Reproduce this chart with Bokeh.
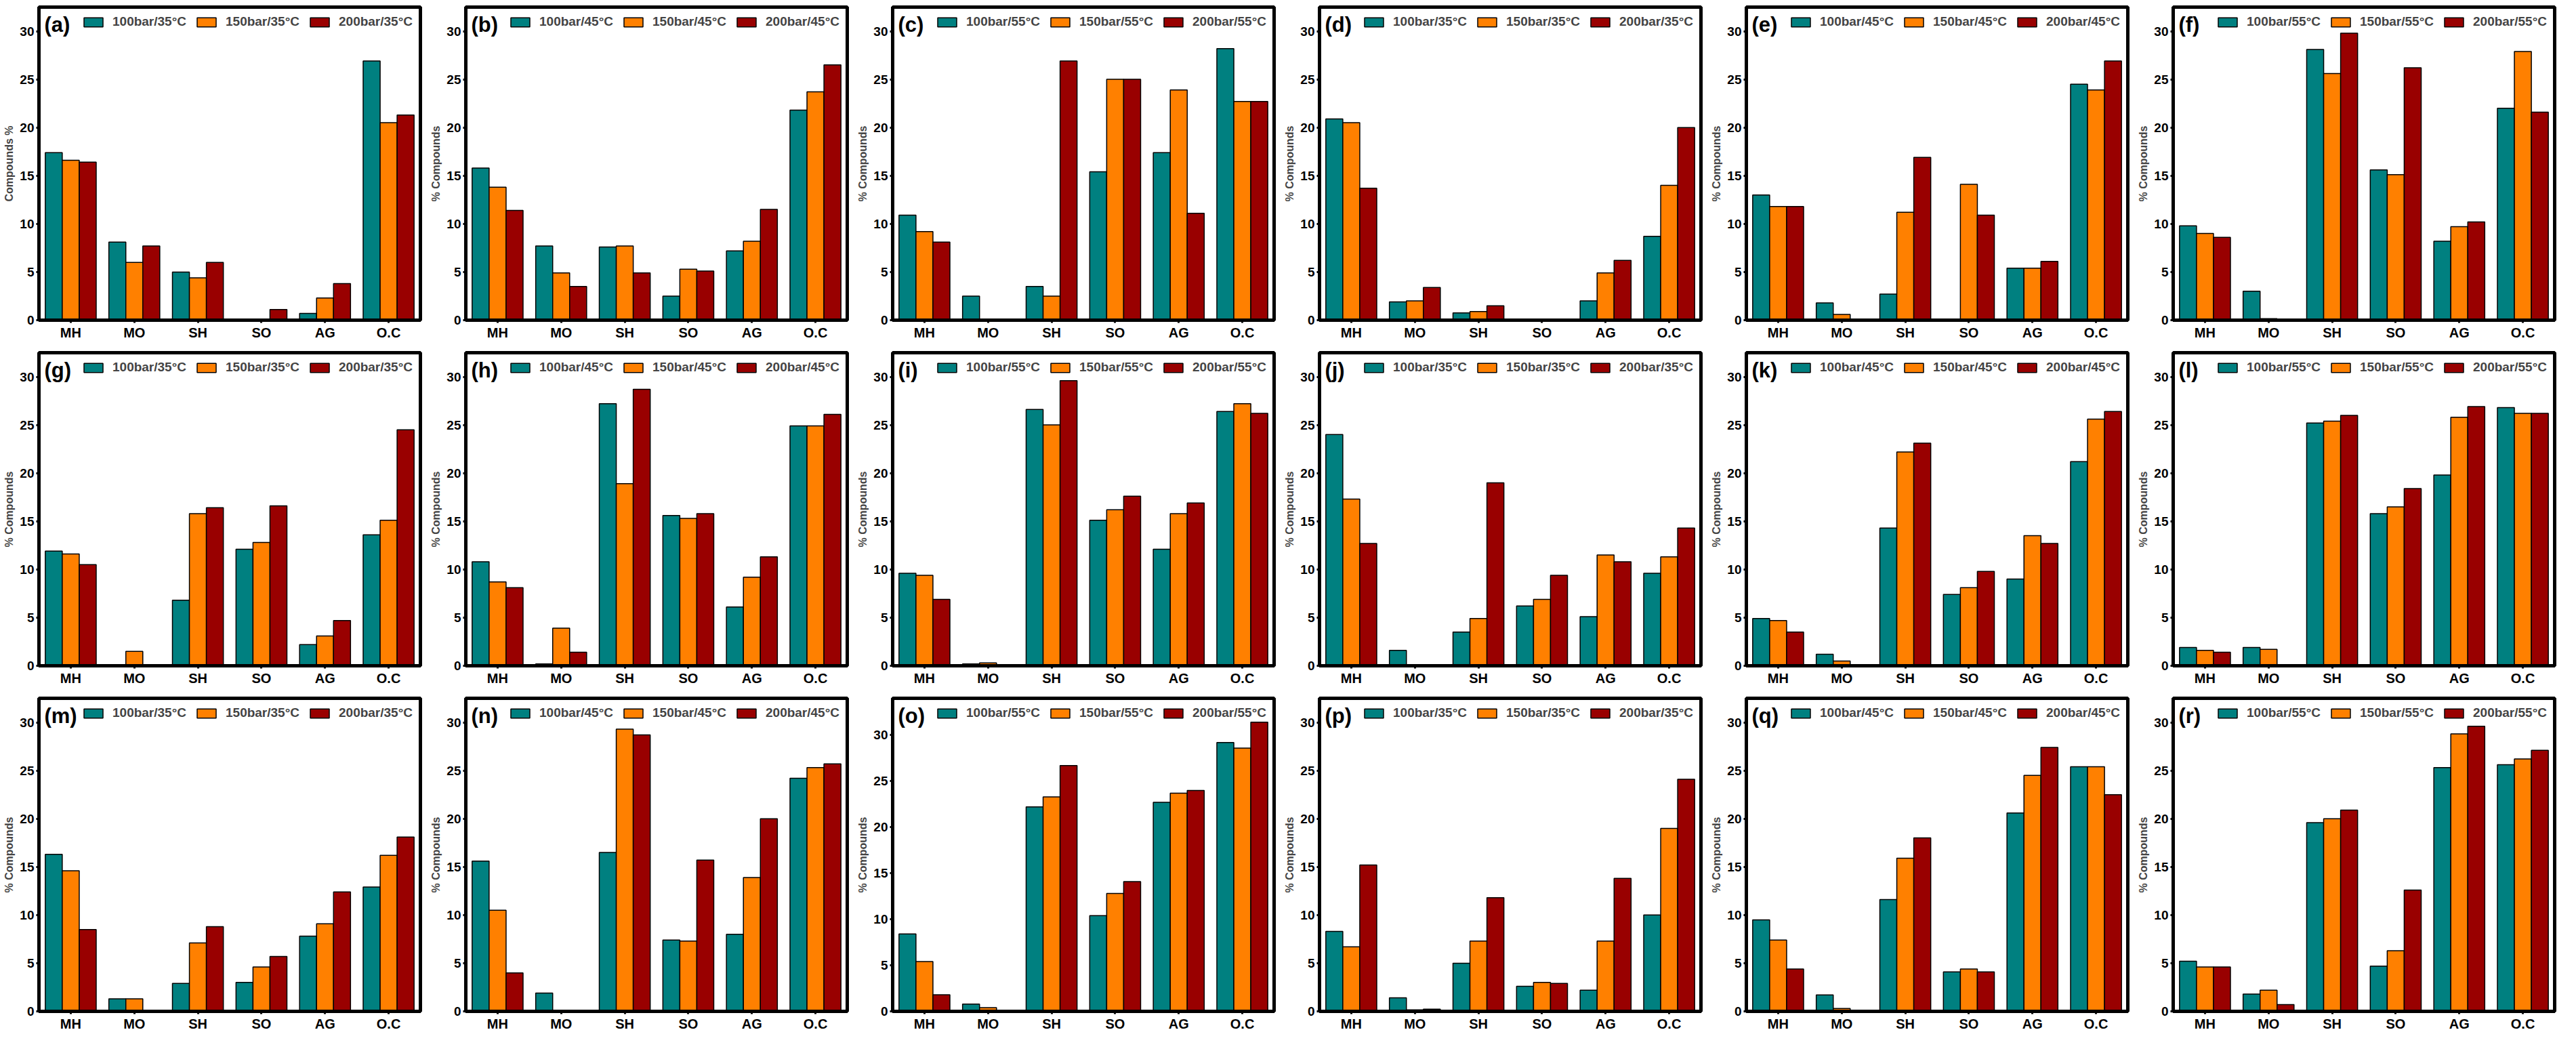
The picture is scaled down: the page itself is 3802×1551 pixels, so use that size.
"""
Percentage of compound classes (MH, MO, SH, SO, AG, O.C) extracted at
100/150/200 bar and 35/45/55 degC -- 18 grouped bar panels, (a) to (r).
"""

from bokeh.core.properties import value
from bokeh.embed import file_html
from bokeh.layouts import gridplot
from bokeh.models import ColumnDataSource, FactorRange, FixedTicker, Legend, LegendItem, Range1d
from bokeh.plotting import figure
from bokeh.resources import INLINE
from bokeh.transform import dodge

groups = ["MH", "MO", "SH", "SO", "AG", "O.C"]
pressures = ["100bar", "150bar", "200bar"]
temps = ["35", "45", "55"]
colors = ["#008080", "#FF8000", "#990000"]
y_ticks = [0, 5, 10, 15, 20, 25, 30]

# each panel: [100bar, 150bar, 200bar] rows, values in the order of `groups`
a_vals = [[17.4, 8.1, 5.0, 0.0, 0.7, 26.9],
          [16.6, 6.0, 4.4, 0.0, 2.3, 20.5],
          [16.4, 7.7, 6.0, 1.1, 3.8, 21.3]]
b_vals = [[15.8, 7.7, 7.6, 2.5, 7.2, 21.8],
          [13.8, 4.9, 7.7, 5.3, 8.2, 23.7],
          [11.4, 3.5, 4.9, 5.1, 11.5, 26.5]]
c_vals = [[10.9, 2.5, 3.5, 15.4, 17.4, 28.2],
          [9.2, 0.0, 2.5, 25.0, 23.9, 22.7],
          [8.1, 0.0, 26.9, 25.0, 11.1, 22.7]]
d_vals = [[20.9, 1.9, 0.75, 0.0, 2.0, 8.7],
          [20.5, 2.0, 0.9, 0.0, 4.9, 14.0],
          [13.7, 3.4, 1.5, 0.0, 6.2, 20.0]]
e_vals = [[13.0, 1.8, 2.7, 0.0, 5.4, 24.5],
          [11.8, 0.6, 11.2, 14.1, 5.4, 23.9],
          [11.8, 0.0, 16.9, 10.9, 6.1, 26.9]]
f_vals = [[9.8, 3.0, 28.1, 15.6, 8.2, 22.0],
          [9.0, 0.15, 25.6, 15.1, 9.7, 27.9],
          [8.6, 0.0, 29.8, 26.2, 10.2, 21.6]]
g_vals = [[11.9, 0.0, 6.8, 12.1, 2.2, 13.6],
          [11.6, 1.5, 15.8, 12.8, 3.1, 15.1],
          [10.5, 0.07, 16.4, 16.6, 4.7, 24.5]]
h_vals = [[10.8, 0.2, 27.2, 15.6, 6.1, 24.9],
          [8.7, 3.9, 18.9, 15.3, 9.2, 24.9],
          [8.1, 1.4, 28.7, 15.8, 11.3, 26.1]]
i_vals = [[9.6, 0.2, 26.6, 15.1, 12.1, 26.4],
          [9.4, 0.3, 25.0, 16.2, 15.8, 27.2],
          [6.9, 0.0, 29.6, 17.6, 16.9, 26.2]]
j_vals = [[24.0, 1.6, 3.5, 6.2, 5.1, 9.6],
          [17.3, 0.0, 4.9, 6.9, 11.5, 11.3],
          [12.7, 0.0, 19.0, 9.4, 10.8, 14.3]]
k_vals = [[4.9, 1.2, 14.3, 7.4, 9.0, 21.2],
          [4.7, 0.5, 22.2, 8.1, 13.5, 25.6],
          [3.5, 0.0, 23.1, 9.8, 12.7, 26.4]]
l_vals = [[1.9, 1.9, 25.2, 15.8, 19.8, 26.8],
          [1.6, 1.7, 25.4, 16.5, 25.8, 26.2],
          [1.4, 0.0, 26.0, 18.4, 26.9, 26.2]]
m_vals = [[16.3, 1.3, 2.9, 3.0, 7.8, 12.9],
          [14.6, 1.3, 7.1, 4.6, 9.1, 16.2],
          [8.5, 0.0, 8.8, 5.7, 12.4, 18.1]]
n_vals = [[15.6, 1.9, 16.5, 7.4, 8.0, 24.2],
          [10.5, 0.07, 29.3, 7.3, 13.9, 25.3],
          [4.0, 0.0, 28.7, 15.7, 20.0, 25.7]]
o_vals = [[8.4, 0.8, 22.2, 10.4, 22.7, 29.2],
          [5.4, 0.4, 23.3, 12.8, 23.7, 28.6],
          [1.8, 0.0, 26.7, 14.1, 24.0, 31.4]]
p_vals = [[8.3, 1.4, 5.0, 2.6, 2.2, 10.0],
          [6.7, 0.16, 7.3, 3.0, 7.3, 19.0],
          [15.2, 0.23, 11.8, 2.9, 13.8, 24.1]]
q_vals = [[9.5, 1.7, 11.6, 4.1, 20.6, 25.4],
          [7.4, 0.3, 15.9, 4.4, 24.5, 25.4],
          [4.4, 0.0, 18.0, 4.1, 27.4, 22.5]]
r_vals = [[5.2, 1.8, 19.6, 4.7, 25.3, 25.6],
          [4.6, 2.2, 20.0, 6.3, 28.8, 26.2],
          [4.6, 0.7, 20.9, 12.6, 29.6, 27.1]]

letters = "abcdefghijklmnopqr"
all_vals = [a_vals, b_vals, c_vals, d_vals, e_vals, f_vals,
            g_vals, h_vals, i_vals, j_vals, k_vals, l_vals,
            m_vals, n_vals, o_vals, p_vals, q_vals, r_vals]

FONT = "Liberation Sans"


def make_panel(letter, vals, temp, ylabel, ytop):
    src = ColumnDataSource(data=dict(cat=groups, s0=vals[0], s1=vals[1], s2=vals[2]))
    p = figure(x_range=FactorRange(*groups, range_padding=0), y_range=Range1d(0, ytop),
               width=630, height=510, output_backend="svg", toolbar_location=None,
               min_border_left=57, min_border_right=10, min_border_top=10, min_border_bottom=38)

    items = []
    for k, offs in enumerate([-0.267, 0.0, 0.267]):
        r = p.vbar(x=dodge("cat", offs, range=p.x_range), top=f"s{k}", width=0.267, source=src,
                   fill_color=colors[k], line_color="black", line_width=1.5)
        items.append(LegendItem(label=f"{pressures[k]}/{temp}°C", renderers=[r]))

    legend = Legend(items=items, orientation="horizontal", location="top_right",
                    glyph_width=35, glyph_height=17, label_standoff=11, spacing=12,
                    label_text_font=FONT, label_text_font_size="19px", label_text_font_style="bold",
                    padding=0, margin=11, border_line_alpha=0, background_fill_alpha=0)
    p.add_layout(legend)

    # panel letter in the top left corner
    p.text(x=["MH"], y=[ytop], text=[f"({letter})"], x_offset=-39, y_offset=8,
           text_align="left", text_baseline="top", text_font=value(FONT),
           text_font_size="31px", text_font_style="bold", text_color="black")

    p.xgrid.visible = False
    p.ygrid.visible = False
    p.outline_line_color = "black"
    p.outline_line_width = 5
    p.outline_line_alpha = 1

    p.yaxis.ticker = FixedTicker(ticks=y_ticks)
    p.yaxis.axis_label = ylabel
    p.yaxis.axis_label_text_font = FONT
    p.yaxis.axis_label_text_font_size = "16px"
    p.yaxis.axis_label_text_font_style = "bold"
    p.yaxis.axis_label_standoff = 4
    p.axis.axis_line_width = 5
    p.axis.axis_line_color = "black"
    p.axis.major_tick_line_width = 3
    p.axis.major_tick_out = 4
    p.axis.major_tick_in = 0
    p.axis.minor_tick_line_color = None
    p.axis.major_label_standoff = 3
    p.axis.major_label_text_font = FONT
    p.axis.major_label_text_font_style = "bold"
    p.axis.major_label_text_color = "black"
    p.yaxis.major_label_text_font_size = "19px"
    p.xaxis.major_label_text_font_size = "20px"
    return p


figs = []
for n, (letter, vals) in enumerate(zip(letters, all_vals)):
    ylabel = "Compounds %" if letter == "a" else "% Compounds"
    ytop = 34 if letter == "o" else 32.5
    figs.append(make_panel(letter, vals, temps[n % 3], ylabel, ytop))

p = gridplot(figs, ncols=6, toolbar_location=None)

open("out.html", "w").write(file_html(p, INLINE))
